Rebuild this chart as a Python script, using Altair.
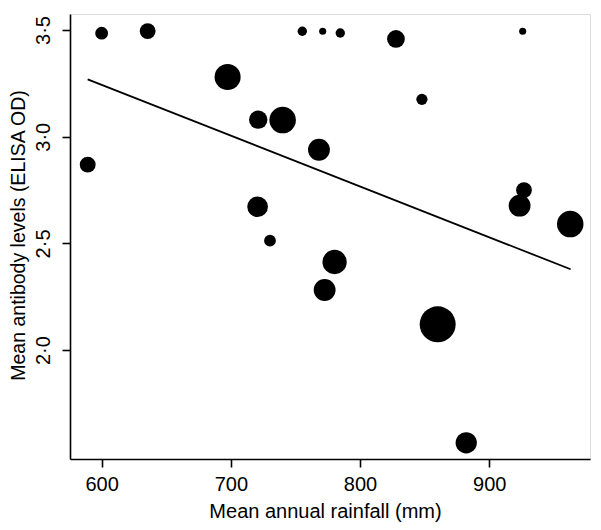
import altair as alt
import pandas as pd

# Mean annual rainfall (mm) per site
rainfall = [600.0, 635.6, 755.3, 771.1, 784.7, 697.5, 721.2, 740.1, 768.2, 589.2, 720.7,
            730.3, 827.8, 847.9, 925.9, 926.9, 923.5, 962.7, 780.3, 772.6, 860.1, 882.2]
# Mean antibody level (ELISA OD) per site
antibody = [3.485, 3.495, 3.494, 3.494, 3.486, 3.280, 3.080, 3.078, 2.939, 2.869, 2.672,
            2.513, 3.458, 3.175, 3.494, 2.750, 2.677, 2.591, 2.413, 2.282, 2.121, 1.566]
# Relative sample size per site (drives the circle area)
sample_n = [13, 20, 7, 4, 7, 54, 27, 56, 38, 20, 34,
            11, 25, 10, 4, 20, 38, 56, 47, 38, 103, 36]

# Fitted (weighted) regression line end points
fit_x = [589.2, 963.0]
fit_y = [3.269, 2.379]

x_ticks = [600, 700, 800, 900]
y_ticks = [2.0, 2.5, 3.0, 3.5]

pts = pd.DataFrame({"rain": rainfall, "ab": antibody, "n": sample_n})
fit = pd.DataFrame({"rain": fit_x, "ab": fit_y})

FONT = "Liberation Sans"
FS = 20

xscale = alt.Scale(domain=[575.5, 978.0], nice=False, zero=False)
yscale = alt.Scale(domain=[1.49, 3.575], nice=False, zero=False)

xaxis = alt.Axis(
    values=x_ticks, title="Mean annual rainfall (mm)", grid=False,
    domainColor="black", domainWidth=1.6, tickColor="black", tickWidth=1.6, tickSize=8,
    labelFont=FONT, labelFontSize=FS, labelColor="black", labelPadding=23,
    labelBaseline="alphabetic",
    titleFont=FONT, titleFontSize=FS, titleFontWeight="normal", titleColor="black",
    titleBaseline="alphabetic", titleY=58, titleX=255, titleAlign="center",
)
yaxis = alt.Axis(
    values=y_ticks, title="Mean antibody levels (ELISA OD)", grid=False, format=".1f",
    labelExpr="replace(datum.label, '.', '·')",
    domainColor="black", domainWidth=1.6, tickColor="black", tickWidth=1.6, tickSize=8,
    labelFont=FONT, labelFontSize=FS, labelColor="black", labelPadding=13,
    labelAngle=270, labelAlign="center", labelBaseline="alphabetic",
    titleFont=FONT, titleFontSize=19.5, titleFontWeight="normal", titleColor="black",
    titleBaseline="alphabetic", titleX=-46, titleY=221, titleAlign="center", titleAngle=270,
)

points = alt.Chart(pts).mark_circle(color="black", opacity=1, strokeWidth=0).encode(
    x=alt.X("rain:Q", scale=xscale, axis=xaxis),
    y=alt.Y("ab:Q", scale=yscale, axis=yaxis),
    size=alt.Size("n:Q", scale=alt.Scale(domain=[0, 110], range=[0, 1382], zero=True), legend=None),
)

line = alt.Chart(fit).mark_line(color="black", strokeWidth=1.8).encode(
    x=alt.X("rain:Q", scale=xscale),
    y=alt.Y("ab:Q", scale=yscale),
)

chart = alt.layer(line, points).properties(
    width=520, height=445,
    autosize=alt.AutoSizeParams(type="none"),
    padding={"left": 62, "top": 6, "right": 3, "bottom": 68},
).configure_view(stroke=None).configure(background="white")

chart.save("out.html", embed_options={"renderer": "svg", "actions": False})
